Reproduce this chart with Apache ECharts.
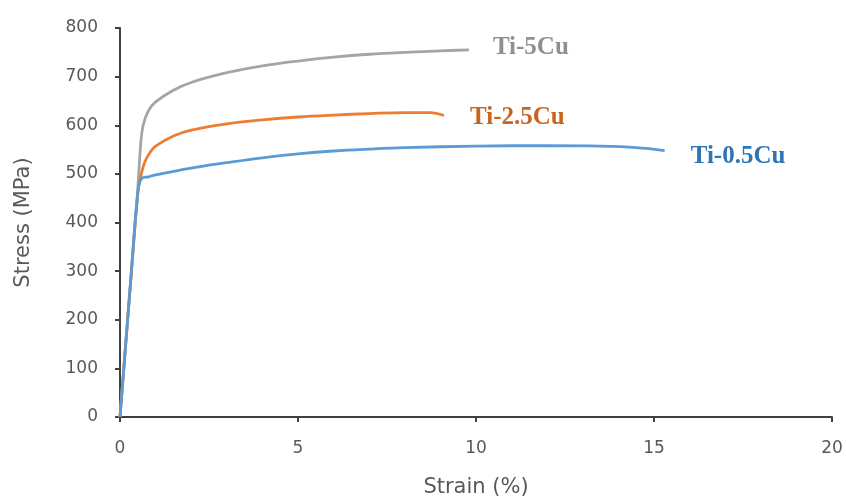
<!DOCTYPE html>
<html>
<head>
<meta charset="utf-8">
<script src="https://cdn.jsdelivr.net/npm/echarts@6/dist/echarts.min.js"></script>
<style>
  html, body { margin: 0; padding: 0; background: #fff; }
  #chart { width: 846px; height: 497px; }
</style>
</head>
<body>
<div id="chart"></div>
<script>
// strain (%) and stress (MPa)
const ti5Strain = [0, 0.3, 0.5, 0.58, 0.65, 0.8, 1.0, 1.5, 2, 3, 4, 5, 6, 7, 8, 9, 9.8];
const ti5Stress = [0, 280, 470, 560, 600, 630, 648, 672, 688, 708, 722, 732, 740, 746, 750, 753, 755];

const ti25Strain = [0, 0.3, 0.5, 0.6, 0.7, 0.85, 1.0, 1.5, 2, 3, 4, 5, 6, 7, 8, 8.7, 9.1];
const ti25Stress = [0, 280, 460, 500, 525, 545, 557, 578, 590, 603, 611, 617, 621, 624, 626, 626, 620];

const ti05Strain = [0, 0.3, 0.5, 0.6, 0.8, 1, 2, 3, 4, 5, 6, 7, 8, 10, 12, 13.5, 14.5, 15.3];
const ti05Stress = [0, 280, 460, 490, 494, 498, 512, 523, 533, 541, 547, 551, 554, 557, 558, 557, 554, 548];

const seriesNames = ["Ti-5Cu", "Ti-2.5Cu", "Ti-0.5Cu"];
const xTicks = [0, 5, 10, 15, 20];
const yTicks = [0, 100, 200, 300, 400, 500, 600, 700, 800];

function pairs(xs, ys) {
  return xs.map((x, i) => [x, ys[i]]);
}

const chart = echarts.init(document.getElementById("chart"));

const axisFont = { fontFamily: "DejaVu Sans", fontSize: 17, color: "#595959" };
const nameFont = { fontFamily: "DejaVu Sans", fontSize: 21, color: "#595959" };
const labelFont = { fontFamily: "Liberation Serif", fontSize: 25, fontWeight: "bold" };

function curve(name, data, lineColor, textColor, offset) {
  return {
    name: name,
    type: "line",
    data: data,
    showSymbol: false,
    smooth: 0.4,
    lineStyle: { color: lineColor, width: 2.8 },
    endLabel: {
      show: true,
      formatter: name,
      color: textColor,
      offset: offset,
      ...labelFont,
    },
  };
}

chart.setOption({
  animation: false,
  grid: { left: 120, right: 14, top: 28, bottom: 80, outerBoundsMode: "none" },
  xAxis: {
    type: "value",
    min: xTicks[0],
    max: xTicks[xTicks.length - 1],
    interval: 5,
    name: "Strain (%)",
    nameLocation: "middle",
    nameGap: 60,
    nameTextStyle: nameFont,
    axisLine: { lineStyle: { color: "#404040", width: 2 } },
    axisTick: { show: true, length: 5, lineStyle: { color: "#404040", width: 2 } },
    axisLabel: { ...axisFont, margin: 23 },
    splitLine: { show: false },
  },
  yAxis: {
    type: "value",
    min: yTicks[0],
    max: yTicks[yTicks.length - 1],
    interval: 100,
    name: "Stress (MPa)",
    nameLocation: "middle",
    nameGap: 86,
    nameTextStyle: nameFont,
    axisLine: { show: true, lineStyle: { color: "#404040", width: 2 } },
    axisTick: { show: true, length: 5, lineStyle: { color: "#404040", width: 2 } },
    axisLabel: { ...axisFont, margin: 22 },
    splitLine: { show: false },
  },
  series: [
    curve(seriesNames[0], pairs(ti5Strain, ti5Stress), "#a5a5a5", "#8f8f8f", [16, -2]),
    curve(seriesNames[1], pairs(ti25Strain, ti25Stress), "#ed7d31", "#c9641f", [18, 2]),
    curve(seriesNames[2], pairs(ti05Strain, ti05Stress), "#5b9bd5", "#2e75b6", [18, 6]),
  ],
});
</script>
</body>
</html>
